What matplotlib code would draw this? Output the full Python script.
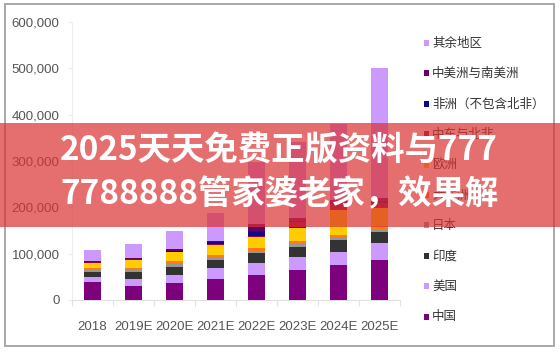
import matplotlib
matplotlib.use("Agg")
import matplotlib.pyplot as plt
from matplotlib.patches import Rectangle
import numpy as np

plt.rcParams['font.family'] = ['Liberation Sans', 'DejaVu Sans']

years = ["2018", "2019E", "2020E", "2021E", "2022E", "2023E", "2024E", "2025E"]

# series, bottom to top (values in units)
series_names = ["中国", "美国", "印度", "日本", "大洋洲", "欧洲", "中东与北非",
                "非洲（不包含北非）", "中美洲与南美洲", "其余地区"]
china      = [39500, 30000, 36700, 44700, 54000, 64700, 75500, 86300]
usa        = [9500, 14500, 18300, 23300, 25200, 27400, 28700, 36000]
india      = [12000, 16500, 16600, 18300, 21600, 22900, 25900, 25000]
japan      = [4300, 3700, 6500, 5400, 5000, 7300, 5800, 5200]
oceania    = [4300, 3700, 5400, 5400, 7100, 5600, 5000, 7100]
europe     = [9500, 18000, 19400, 21600, 22400, 26800, 54000, 38200]
mena       = [2000, 1500, 1500, 2000, 2000, 13600, 13000, 11900]
africa     = [600, 600, 1000, 5400, 11400, 3200, 3200, 4300]
latam      = [3200, 3000, 5000, 2200, 15000, 5400, 5400, 6500]
rest       = [22000, 30000, 39000, 59000, 134000, 164000, 164000, 279500]
series_vals = [china, usa, india, japan, oceania, europe, mena, africa, latam, rest]
colors = ["#7d007d", "#cc99ff", "#333333", "#969696", "#ff7a10", "#ffcc00",
          "#990040", "#0a0a8c", "#660066", "#cc99ff"]

yticks = [0, 100000, 200000, 300000, 400000, 500000, 600000]
ytick_labels = ["0", "100,000", "200,000", "300,000", "400,000", "500,000", "600,000"]

banner_lines = ["2025天天免费正版资料与777", "7788888管家婆老家，效果解"]

W, H = 560, 352
fig = plt.figure(figsize=(W / 100, H / 100), dpi=100)
fig.patch.set_facecolor("white")

# outer frame
fig.add_artist(Rectangle((5 / W, 6 / H), 549 / W, 342 / H, transform=fig.transFigure,
                         fill=False, edgecolor="#a8a8a8", linewidth=1.4, zorder=1))

ax = fig.add_axes([72 / W, 52 / H, 328 / W, 278 / H])
x = np.arange(len(years))
bottom = np.zeros(len(years))
bars = []
for vals, c in zip(series_vals, colors):
    b = ax.bar(x, vals, width=0.42, bottom=bottom, color=c, linewidth=0, zorder=3)
    bars.append(b)
    bottom += np.array(vals)

ax.set_xlim(-0.5, len(years) - 0.5)
ax.set_ylim(0, 600000)
ax.set_yticks(yticks)
ax.set_yticklabels(ytick_labels)
ax.set_xticks(x)
ax.set_xticklabels(years)
ax.set_xticks(np.arange(-0.5, len(years), 1.0), minor=True)
ax.tick_params(axis='x', which='major', length=0, pad=15, labelsize=9.5, labelcolor="#555555")
ax.tick_params(axis='x', which='minor', length=4, color="#e3e3e3", width=0.8)
ax.tick_params(axis='y', length=3, color="#eeeeee", pad=6, labelsize=9.5, labelcolor="#555555")
for s in ["top", "right"]:
    ax.spines[s].set_visible(False)
ax.spines["left"].set_color("#eeeeee")
ax.spines["bottom"].set_color("#e0e0e0")
ax.spines["left"].set_linewidth(0.8)
ax.spines["bottom"].set_linewidth(0.8)

# legend (top entry = top of stack)
for i, (name, c) in enumerate(zip(series_names[::-1], colors[::-1])):
    yc = 43 + 30.4 * i
    fig.add_artist(Rectangle((424 / W, 1 - (yc + 3) / H), 5 / W, 6 / H,
                             transform=fig.transFigure, color=c, linewidth=0, zorder=2))
    fig.text(432 / W, 1 - yc / H, name, fontsize=9, color="#333333", va="center", ha="left",
             family=["Noto Sans CJK SC", "DejaVu Sans"], zorder=2)

# overlay banner
fig.add_artist(Rectangle((0, 1 - 227 / H), 1, 104 / H, transform=fig.transFigure,
                         color=(218 / 255, 50 / 255, 50 / 255), alpha=0.7, linewidth=0, zorder=10))
for yc, line in zip([151, 194.5], banner_lines):
    fig.text(60 / W, 1 - yc / H, line, fontsize=24, fontweight="bold", color="white",
             va="center", ha="left", family=["Noto Sans CJK SC", "DejaVu Sans"], zorder=11)

fig.savefig("out.png", dpi=100, facecolor="white")
